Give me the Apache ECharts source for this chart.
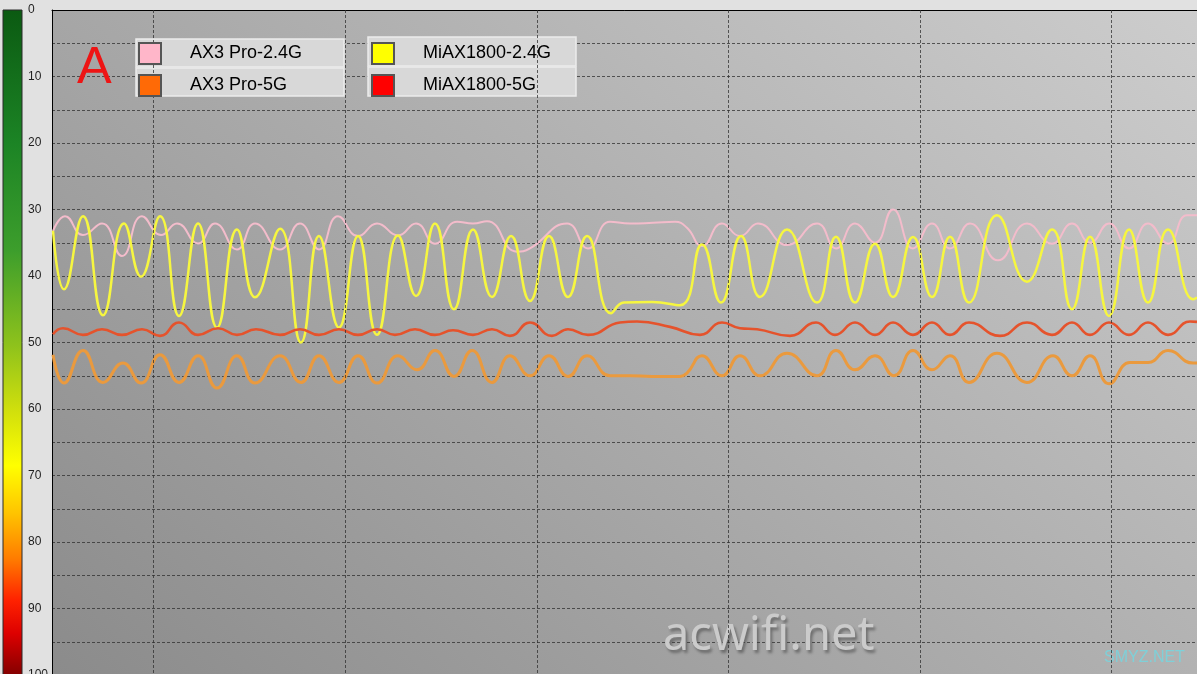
<!DOCTYPE html>
<html>
<head>
<meta charset="utf-8">
<script src="https://cdn.jsdelivr.net/npm/echarts@6/dist/echarts.min.js"></script>
<style>
html,body{margin:0;padding:0;background:#e1e1e1;}
#chart{width:1197px;height:674px;}
</style>
</head>
<body>
<div id="chart"></div>
<script>
// time axis (arbitrary sample units), signal axis in -dBm (0..100, inverted)
const seriesNames = ['AX3 Pro-2.4G', 'AX3 Pro-5G', 'MiAX1800-2.4G', 'MiAX1800-5G'];
const yTickLabels = [0, 10, 20, 30, 40, 50, 60, 70, 80, 90, 100];
const timeGridMarks = [101, 293, 485, 676, 868, 1059];

const ax3Pro24 = [[1,33.25],[13,31],[31,33.85],[50,32.1],[70,37],[90,31],[109,33.85],[125,32.1],[146,35.1],[163,32.1],[185,36],[203,32.1],[228,36],[248,32.1],[267,36],[286,31],
  [306,34],[325,32.1],[346,33.9],[364,32.1],[383,35.15],[405,31.85],[421,32.1],[435,31.75],[465,36.35],[478,35.85],[515,32.1],[536,35.85],[558,31.85],[578,32.1],
  [601,32],[623,31.85],[635,32.75],[650,35.5],[670,32.1],[688,34],[706,32.1],[735,35.35],[765,32.1],[784,35.85],[803,32.1],[823,35],[841,30],[861,35.85],
  [880,32.1],[898,35.85],[918,32.1],[946,37.65],[975,32.1],[1000,35.15],[1020,32.1],[1038,35],[1057,32.1],[1077,35.85],[1096,32.1],[1116,35.15],[1135,30.85],[1145,30.85]];

const ax3Pro5 = [[1,51.85],[12,56.1],[31,51.2],[51,56],[71,53.1],[89,56.1],[108,51.85],[127,56],[146,52],[165,56.85],[185,52],[203,56.1],[228,52],[249,56],[267,52],[287,56],
  [306,52],[325,56.1],[346,52],[365,54.1],[383,51.2],[402,55.1],[420,51.2],[440,56],[458,52],[478,55],[497,52],[516,55.1],[535,52],[558,55],[578,55],
  [600,55.1],[628,55.1],[635,54.6],[650,52],[670,55],[688,52],[708,55],[735,51.6],[765,55],[784,51.2],[803,54.1],[823,52],[842,55],[861,51.2],
  [880,54.1],[898,52],[917,56],[945,51.6],[975,56],[1001,52],[1020,55],[1038,52],[1057,56.2],[1078,53],[1096,53],[1116,51.2],[1141,53.1],[1145,53.1]];

const miAX24 = [[1,33.2],[12,42],[31,31],[51,45.9],[72,32.1],[89,40.1],[108,31],[127,46],[146,32.1],[165,47.75],[185,33],[203,43.2],[228,32.9],[249,50],[267,34],[287,47.75],
  [306,34],[325,48.85],[346,33.9],[364,43],[383,32.1],[402,45],[421,33],[440,43.15],[459,34],[478,43.75],[497,34],[516,43.15],[535,34],[559,45.6],
  [572,44],[600,43.9],[628,44.4],[650,35.25],[669,44],[689,34],[708,43.15],[735,33],[765,44],[784,34.1],[803,44],[823,35.15],[841,43.15],[861,34.15],
  [880,43.15],[898,34.1],[917,44],[945,30.85],[975,40.85],[1000,33],[1020,45],[1038,34.1],[1057,46],[1077,33],[1096,44],[1116,33],[1141,43.5],[1145,43.25]];

const miAX5 = [[1,48.75],[11,47.85],[31,48.85],[50,48],[70,48.85],[90,48],[108,49],[127,47],[146,48.85],[166,47.85],[185,48.85],[204,48],[228,48.85],[248,48],[267,48.85],[287,48],
  [306,48.85],[325,48],[343,48.85],[363,48],[383,48.85],[401,48.15],[421,48.85],[440,48],[458,49],[478,47],[500,49],[516,48],[536,48.85],
  [568,47],[585,46.85],[618,47.65],[648,48.85],[670,47],[688,47.85],[705,48],[738,49],[764,47],[783,48.85],[803,47],[823,48.85],[841,47],[861,48.85],
  [880,47],[898,48.85],[917,47],[948,49],[975,47],[1000,48.85],[1020,47],[1038,48.85],[1057,47],[1077,48.85],[1096,47],[1116,48.85],[1138,46.85],[1145,46.9]];

const chart = echarts.init(document.getElementById('chart'));

const lineColors = {'AX3 Pro-2.4G':'#f3bccb','AX3 Pro-5G':'#ea9a3e','MiAX1800-2.4G':'#f6f640','MiAX1800-5G':'#e5532c'};
const swatchColors = {'AX3 Pro-2.4G':'#ffb6c9','AX3 Pro-5G':'#ff6a06','MiAX1800-2.4G':'#ffff00','MiAX1800-5G':'#ff0000'};
const widths = {'AX3 Pro-2.4G':2,'AX3 Pro-5G':3,'MiAX1800-2.4G':2.5,'MiAX1800-5G':2.6};
const dataMap = {'AX3 Pro-2.4G':ax3Pro24,'AX3 Pro-5G':ax3Pro5,'MiAX1800-2.4G':miAX24,'MiAX1800-5G':miAX5};

function legendItem(n){
  return {name:n, icon:'rect', itemStyle:{color:swatchColors[n], borderColor:'#555', borderWidth:2}};
}
const legendText = {fontSize:18, fontFamily:'Liberation Sans, Arial, sans-serif', color:'#000', padding:[0,0,0,24], lineHeight:21};

const order = ['AX3 Pro-2.4G','MiAX1800-2.4G','AX3 Pro-5G','MiAX1800-5G'];
const series = order.map(n => ({
  name:n, type:'line', data:dataMap[n], smooth:0.5, showSymbol:false, symbol:'none',
  lineStyle:{color:lineColors[n], width:widths[n]}, itemStyle:{color:lineColors[n]},
  z:2, silent:true
}));
series.push({
  type:'line', data:[], z:1, silent:true,
  markLine:{silent:true, symbol:['none','none'], label:{show:false},
    lineStyle:{color:'rgba(45,45,45,0.75)', type:[3,2], width:1},
    data: timeGridMarks.map(v => ({xAxis:v}))}
});

const barGradient = new echarts.graphic.LinearGradient(0,0,0,1,[
  {offset:0,color:'#0b5a12'},{offset:0.2,color:'#1c8425'},{offset:0.36,color:'#3d9e2c'},
  {offset:0.5,color:'#8ec21c'},{offset:0.6,color:'#d2e00c'},{offset:0.68,color:'#ffff00'},
  {offset:0.75,color:'#ffc400'},{offset:0.82,color:'#ff7a00'},{offset:0.88,color:'#ff2200'},
  {offset:0.93,color:'#dd0000'},{offset:1,color:'#780000'}]);

chart.setOption({
  backgroundColor:'#e1e1e1',
  animation:false,
  grid:{left:52, top:10, width:1145, height:665, show:true, borderWidth:0, outerBoundsMode:'none', containLabel:false,
    backgroundColor:{type:'linear', x:52, y:675, x2:852, y2:-281, global:true,
      colorStops:[{offset:0,color:'#8b8b8b'},{offset:1,color:'#cdcdcd'}]}},
  xAxis:{type:'value', min:0, max:1145, position:'top',
    axisLine:{show:true, lineStyle:{color:'#000', width:1}},
    axisTick:{show:false}, axisLabel:{show:false}, splitLine:{show:false}},
  yAxis:{type:'value', min:0, max:100, interval:5, inverse:true,
    axisLine:{show:true, lineStyle:{color:'#000', width:1}},
    axisTick:{show:false},
    axisLabel:{show:true, align:'left', margin:24, fontSize:12, color:'#1e1e1e',
      fontFamily:'Liberation Sans, Arial, sans-serif', showMinLabel:true, showMaxLabel:true,
      formatter: v => yTickLabels.indexOf(v) >= 0 ? String(v) : ''},
    splitLine:{show:true, lineStyle:{color:'rgba(45,45,45,0.75)', type:[3,2], width:1}}},
  legend:[
    {left:138, top:42, orient:'vertical', itemWidth:22, itemHeight:21, itemGap:9, padding:0,
      selectedMode:false, data:[legendItem('AX3 Pro-2.4G'), legendItem('AX3 Pro-5G')], textStyle:legendText, z:6},
    {left:371, top:42, orient:'vertical', itemWidth:22, itemHeight:21, itemGap:9, padding:0,
      selectedMode:false, data:[legendItem('MiAX1800-2.4G'), legendItem('MiAX1800-5G')], textStyle:legendText, z:6}
  ],
  graphic:[
    {type:'rect', z:5, shape:{x:3, y:10, width:19, height:670}, style:{fill:barGradient, stroke:'#2b2b2b', lineWidth:1}},
    {type:'rect', z:5, shape:{x:136, y:39, width:208, height:28}, style:{fill:'#d8d8d8', stroke:'#ebebeb', lineWidth:1.5}},
    {type:'rect', z:5, shape:{x:136, y:68, width:208, height:28}, style:{fill:'#d8d8d8', stroke:'#ebebeb', lineWidth:1.5}},
    {type:'rect', z:5, shape:{x:368, y:37, width:208, height:29}, style:{fill:'#d8d8d8', stroke:'#ebebeb', lineWidth:1.5}},
    {type:'rect', z:5, shape:{x:368, y:67, width:208, height:29}, style:{fill:'#d8d8d8', stroke:'#ebebeb', lineWidth:1.5}},
    {type:'text', z:5, x:77, y:69, style:{text:'A', font:'52px "Liberation Sans", Arial, sans-serif', fill:'#ee1414', verticalAlign:'middle', align:'left'}},
    {type:'text', z:1, x:663, y:637, style:{text:'acwifi.net', font:'47px "Noto Sans", sans-serif', fill:'#cbcbcb',
      verticalAlign:'middle', align:'left', textShadowColor:'rgba(60,60,60,0.55)', textShadowBlur:3, textShadowOffsetX:2, textShadowOffsetY:3}},
    {type:'text', z:1, x:1104, y:658, style:{text:'SMYZ.NET', font:'16px "Liberation Sans", Arial, sans-serif', fill:'#7fd0d8', verticalAlign:'middle', align:'left'}}
  ],
  series:series
});
</script>
</body>
</html>
